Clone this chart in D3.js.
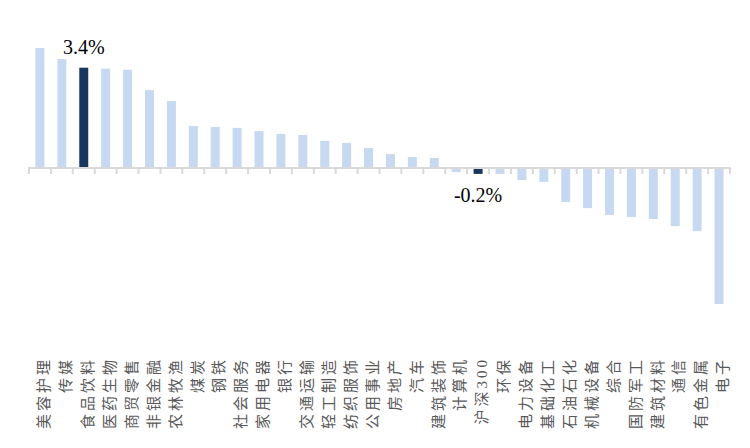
<!DOCTYPE html>
<meta charset="utf-8">
<style>
    body {
        margin:0;
        background:#fff;
    }
    .val {
        font-family: "Liberation Serif", "Times New Roman", serif;
        font-size: 20px;
    }
    .cat {
        font-family: "Liberation Serif", "Noto Sans CJK SC", serif;
        font-size: 15px;
        letter-spacing: 3px;
    }
</style>
<body>
<script src="https://d3js.org/d3.v7.min.js"></script>
<script>
var width = 750, height = 448;

// industry returns (%)
var categories = ["美容护理","传媒","食品饮料","医药生物","商贸零售","非银金融","农林牧渔","煤炭","钢铁","社会服务",
    "家用电器","银行","交通运输","轻工制造","纺织服饰","公用事业","房地产","汽车","建筑装饰","计算机",
    "沪深300","环保","电力设备","基础化工","石油石化","机械设备","综合","国防军工","建筑材料","通信",
    "有色金属","电子"];
var values = [4.07, 3.69, 3.40, 3.37, 3.33, 2.64, 2.27, 1.42, 1.39, 1.36,
    1.25, 1.15, 1.12, 0.92, 0.85, 0.68, 0.47, 0.37, 0.34, -0.14,
    -0.20, -0.20, -0.41, -0.47, -1.15, -1.36, -1.59, -1.66, -1.73, -1.97,
    -2.14, -4.61];
var highlighted = ["食品饮料", "沪深300"];
var labels = [["食品饮料", "3.4%"], ["沪深300", "-0.2%"]];

var data = categories.map(function(c, i) { return {name: c, value: values[i]}; });

var svg = d3.select("body").append("svg")
    .attr("width", width)
    .attr("height", height);

var x = d3.scaleBand()
    .domain(categories)
    .range([29, 730])
    .paddingInner(0.59)
    .paddingOuter(0.295);

var y = d3.scaleLinear()
    .domain([-5, 5])
    .range([315.5, 20.5]);

var gap = (x.step() - x.bandwidth()) / 2;
function edge(i) {
    return i < categories.length ? x(categories[i]) - gap : x(categories[i - 1]) + x.bandwidth() + gap;
}

svg.selectAll("rect.bar")
    .data(data)
  .enter().append("rect")
    .attr("class", "bar")
    .attr("x", function(d) { return x(d.name); })
    .attr("width", x.bandwidth())
    .attr("y", function(d) { return y(Math.max(0, d.value)); })
    .attr("height", function(d) { return Math.abs(y(d.value) - y(0)); })
    .attr("fill", function(d) { return highlighted.indexOf(d.name) >= 0 ? "#17375e" : "#c6d9f0"; });

// axis line + ticks between categories
var axis = svg.append("g").attr("stroke", "#d9d9d9");
axis.append("line")
    .attr("x1", 29).attr("x2", 730)
    .attr("y1", y(0)).attr("y2", y(0))
    .attr("stroke-width", 2);
axis.selectAll("line.tick")
    .data(d3.range(categories.length + 1))
  .enter().append("line")
    .attr("class", "tick")
    .attr("x1", edge)
    .attr("x2", edge)
    .attr("y1", y(0) - 1).attr("y2", y(0) + 6)
    .attr("stroke-width", 2);

// value callouts
svg.selectAll("text.val")
    .data(labels)
  .enter().append("text")
    .attr("class", "val")
    .attr("x", function(d) { return x(d[0]) + x.bandwidth() / 2; })
    .attr("y", function(d) {
        var v = values[categories.indexOf(d[0])];
        return v >= 0 ? y(v) - 14 : y(v) + 28;
    })
    .attr("text-anchor", "middle")
    .attr("fill", "#000")
    .text(function(d) { return d[1]; });

// vertical category labels
svg.selectAll("text.cat")
    .data(categories)
  .enter().append("text")
    .attr("class", "cat")
    .attr("transform", function(d) { return "translate(" + (x(d) + x.bandwidth() / 2 + 4) + ",357) rotate(-90)"; })
    .attr("dy", "0.35em")
    .attr("text-anchor", "end")
    .attr("fill", "#595959")
    .text(function(d) { return d; });
</script>
</body>
